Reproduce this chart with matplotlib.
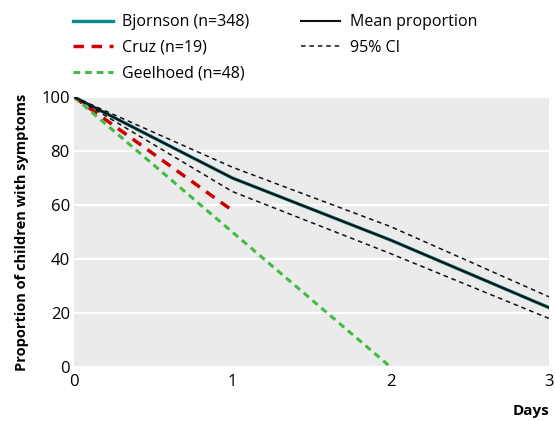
import matplotlib
matplotlib.use("Agg")
import matplotlib.pyplot as plt

days = [0, 1, 2, 3]
bjornson = [100, 70, 47, 22]
mean_prop = [100, 70, 47, 22]
ci_upper = [100, 74, 52, 26]
ci_lower = [100, 65, 42, 18]
cruz_days = [0, 1]
cruz = [100, 58]
geel_days = [0, 1, 2]
geelhoed = [100, 50, 0]

yticks = [0, 20, 40, 60, 80, 100]
xticks = [0, 1, 2, 3]

plt.rcParams['font.family'] = ['Open Sans', 'DejaVu Sans']

fig = plt.figure(figsize=(5.55, 4.21), dpi=100)
ax = fig.add_axes([0.1333, 0.1283, 0.8557, 0.6413])
ax.set_facecolor('#ebebeb')
for s in ax.spines.values():
    s.set_visible(False)
ax.set_xlim(0, 3)
ax.set_ylim(0, 100)
ax.set_yticks(yticks)
ax.set_xticks(xticks)
ax.tick_params(axis='y', length=0, labelsize=12, pad=3)
ax.tick_params(axis='x', length=0, labelsize=12, pad=5)
ax.yaxis.grid(True, color='white', linewidth=1.5)
ax.set_axisbelow(True)

l1, = ax.plot(days, bjornson, color='#0a8a8a', lw=2.4, label='Bjornson (n=348)')
l2, = ax.plot(cruz_days, cruz, color='#cc0000', lw=2.5, ls=(0, (3, 2.2)), label='Cruz (n=19)')
l3, = ax.plot(geel_days, geelhoed, color='#44bb44', lw=2.2, ls=(0, (2.2, 1.6)), label='Geelhoed (n=48)')
l4, = ax.plot(days, mean_prop, color='#111111', lw=1.5, label='Mean proportion')
l5, = ax.plot(days, ci_upper, color='#111111', lw=1.1, ls=(0, (3, 2.5)), label='95% CI')
ax.plot(days, ci_lower, color='#111111', lw=1.1, ls=(0, (3, 2.5)))

fig.legend(handles=[l1, l2, l3, l4, l5], ncol=2, loc='upper left',
           bbox_to_anchor=(0.105, 1.0), frameon=False, fontsize=11.5,
           handlelength=2.5, handletextpad=0.6, columnspacing=3.2,
           labelspacing=0.6)

ax.set_ylabel('Proportion of children with symptoms', fontsize=10.5,
              fontweight='bold', labelpad=9)
fig.text(0.99, 0.008, 'Days', ha='right', va='bottom', fontsize=11, fontweight='bold')

fig.savefig('out.png', dpi=100)
